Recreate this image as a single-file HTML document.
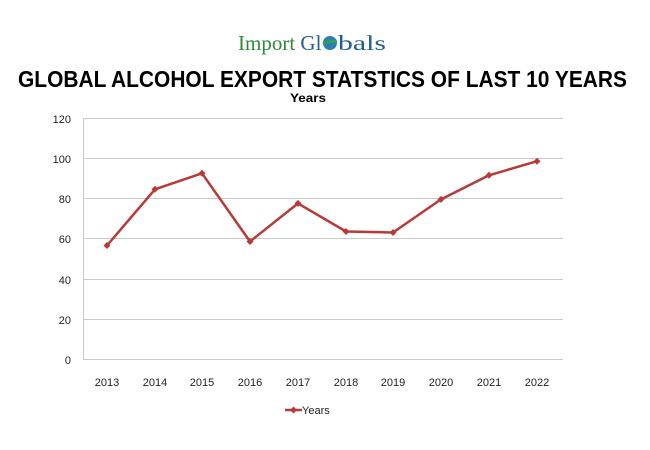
<!DOCTYPE html>
<html><head><meta charset="utf-8"><style>
html,body{margin:0;padding:0;background:#fff;width:650px;height:450px;overflow:hidden}
</style></head><body>
<svg width="650" height="450" xmlns="http://www.w3.org/2000/svg" font-family="Liberation Sans, sans-serif">
<rect width="650" height="450" fill="#fff"/>
<text x="238" y="50" font-family="Liberation Serif, serif" font-size="21" fill="#2e8b3a">Import <tspan fill="#1f5f8b">Gl</tspan></text>
<circle cx="330" cy="43" r="7" fill="#2a7fb8"/>
<path d="M323 44 Q330 40 337 42" stroke="#3aa04a" stroke-width="2.5" fill="none"/>
<text x="338" y="50" font-family="Liberation Serif, serif" font-size="21" fill="#1f5f8b" textLength="48" lengthAdjust="spacingAndGlyphs">bals</text>
<text x="18" y="87" font-size="23" font-weight="bold" fill="#000" textLength="609" lengthAdjust="spacingAndGlyphs">GLOBAL ALCOHOL EXPORT STATSTICS OF LAST 10 YEARS</text>
<text x="290" y="102" font-size="12" font-weight="bold" fill="#000" textLength="36" lengthAdjust="spacingAndGlyphs">Years</text>
<g stroke="#c8c8c8" stroke-width="1">
<line x1="83" y1="118.5" x2="563" y2="118.5"/>
<line x1="83" y1="158.5" x2="563" y2="158.5"/>
<line x1="83" y1="198.5" x2="563" y2="198.5"/>
<line x1="83" y1="238.5" x2="563" y2="238.5"/>
<line x1="83" y1="279.5" x2="563" y2="279.5"/>
<line x1="83" y1="319.5" x2="563" y2="319.5"/>
<line x1="83" y1="359.5" x2="563" y2="359.5"/>
<line x1="83.5" y1="118" x2="83.5" y2="360"/>
</g>
<g font-size="11" fill="#222" text-anchor="end">
<text x="71" y="123">120</text><text x="71" y="163">100</text><text x="71" y="203">80</text>
<text x="71" y="243">60</text><text x="71" y="284">40</text><text x="71" y="324">20</text><text x="71" y="364">0</text>
</g>
<g font-size="11" fill="#222" text-anchor="middle">
<text x="107" y="386">2013</text><text x="155" y="386">2014</text><text x="202" y="386">2015</text>
<text x="250" y="386">2016</text><text x="298" y="386">2017</text><text x="346" y="386">2018</text>
<text x="393" y="386">2019</text><text x="441" y="386">2020</text><text x="489" y="386">2021</text>
<text x="537" y="386">2022</text>
</g>
<polyline fill="none" stroke="#b83a36" stroke-width="2.5" stroke-linejoin="round" points="107,245.5 155,189.3 202,173.3 250,241.5 298,203.4 346,231.5 393,232.5 441,199.4 489,175.3 537,161.2"/>
<g fill="#b83a36">
<path d="M107 242l3.5 3.5-3.5 3.5-3.5-3.5z"/><path d="M155 185.8l3.5 3.5-3.5 3.5-3.5-3.5z"/>
<path d="M202 169.8l3.5 3.5-3.5 3.5-3.5-3.5z"/><path d="M250 238l3.5 3.5-3.5 3.5-3.5-3.5z"/>
<path d="M298 199.9l3.5 3.5-3.5 3.5-3.5-3.5z"/><path d="M346 228l3.5 3.5-3.5 3.5-3.5-3.5z"/>
<path d="M393 229l3.5 3.5-3.5 3.5-3.5-3.5z"/><path d="M441 195.9l3.5 3.5-3.5 3.5-3.5-3.5z"/>
<path d="M489 171.8l3.5 3.5-3.5 3.5-3.5-3.5z"/><path d="M537 157.7l3.5 3.5-3.5 3.5-3.5-3.5z"/>
</g>
<line x1="285" y1="410" x2="302" y2="410" stroke="#b83a36" stroke-width="2.5"/>
<path d="M293.5 406.5l3.5 3.5-3.5 3.5-3.5-3.5z" fill="#b83a36"/>
<text x="302" y="414" font-size="11" fill="#222">Years</text>
</svg>
</body></html>
